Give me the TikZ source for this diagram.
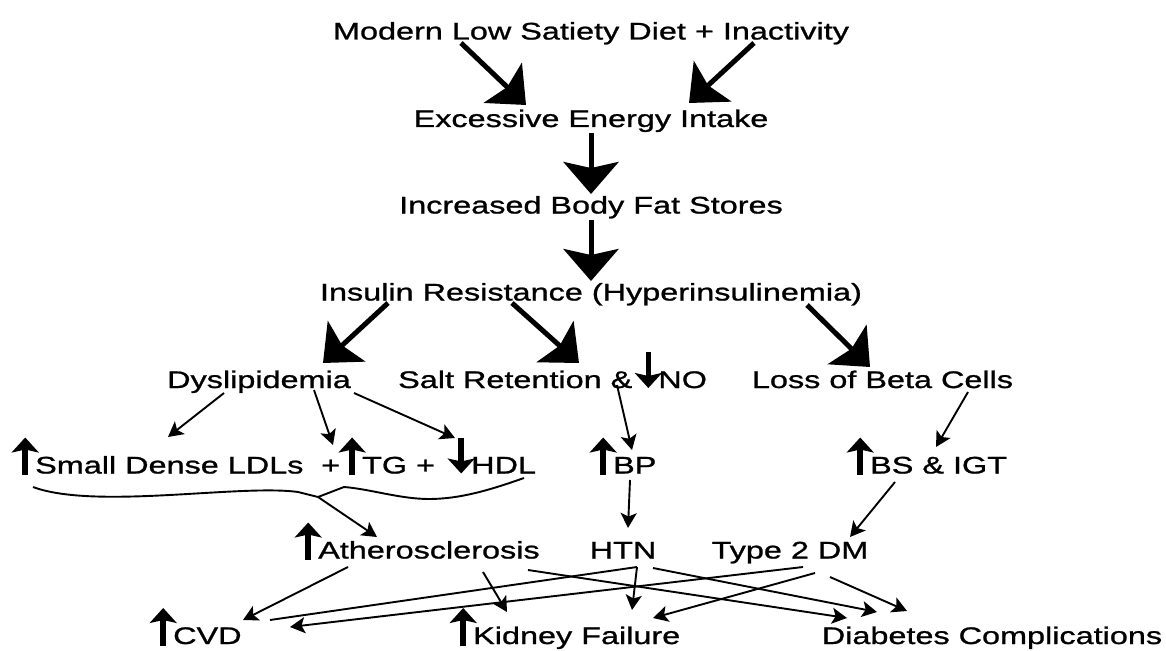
\documentclass[tikz,border=0pt]{standalone}
\usepackage{fontspec}
\setmainfont{Liberation Sans}[FakeStretch=1.35,FakeBold=1]
\usetikzlibrary{arrows.meta}
\newcommand{\upa}{\tikz[baseline=0pt]{\useasboundingbox (0pt,0pt) rectangle (22pt,1pt);
  \draw[line width=5.5pt,-{Stealth[length=15pt,width=27pt,inset=3pt]}] (12pt,-1.5pt) -- (12pt,36pt);}}
\newcommand{\dna}{\tikz[baseline=0pt]{\useasboundingbox (0pt,0pt) rectangle (22pt,1pt);
  \draw[line width=5.5pt,-{Stealth[length=15pt,width=27pt,inset=3pt]}] (12pt,36pt) -- (12pt,0pt);}}
\begin{document}
\begin{tikzpicture}[x=1pt,y=-1pt,
  lbl/.style={inner sep=0pt,anchor=base,font=\fontsize{24}{28}\selectfont},
  lblw/.style={lbl,anchor=base west},
  big/.style={line width=5pt,-{Stealth[length=32pt,width=55pt,inset=6pt]}},
  thin/.style={line width=1.9pt,-{Stealth[length=15pt,width=16pt,inset=3.5pt]}},
  plain/.style={line width=1.9pt}]
\fill[white] (0,0) rectangle (1166,650);
\useasboundingbox (0,0) rectangle (1166,650);
% nodes
\node[lbl] (top) at (591,39.5) {Modern Low Satiety Diet + Inactivity};
\node[lbl] (eei) at (591,127) {Excessive Energy Intake};
\node[lbl] (bfs) at (591,213.5) {Increased Body Fat Stores};
\node[lbl] (ir) at (591,300.5) {Insulin Resistance (Hyperinsulinemia)};
\node[lbl] (dys) at (259,388) {Dyslipidemia};
\node[lblw] (salt) at (398,388) {Salt Retention \&\,\dna NO};
\node[lbl] (loss) at (882.5,388) {Loss of Beta Cells};
\node[lblw] (sdl) at (13,473.5) {\upa Small Dense LDLs};
\node[lblw] (tg) at (321,473.5) {+\upa TG +};
\node[lblw] (hdl) at (449,473.5) {\dna HDL};
\node[lblw] (bp) at (591,473.5) {\upa BP};
\node[lblw] (bs) at (848,473.5) {\upa BS \& IGT};
\node[lblw] (ath) at (296,558.5) {\upa Atherosclerosis};
\node[lbl] (htn) at (623,558.5) {HTN};
\node[lbl] (t2) at (790,558.5) {Type 2 DM};
\node[lblw] (cvd) at (151,644) {\upa CVD};
\node[lblw] (kf) at (451,644) {\upa Kidney Failure};
\node[lbl] (dc) at (992,644) {Diabetes Complications};
% connector end points
\coordinate (topL) at (461,43);   \coordinate (eeiL) at (526,105);
\coordinate (topR) at (754,43);   \coordinate (eeiR) at (689,103);
\coordinate (eeiB) at (591,133);  \coordinate (bfsT) at (591,194);
\coordinate (bfsB) at (591,220);  \coordinate (irT) at (591,281);
\coordinate (irA) at (388,303);   \coordinate (dysT) at (323,363);
\coordinate (irB) at (512,303);   \coordinate (saltT) at (579,363);
\coordinate (irC) at (807,305);   \coordinate (lossT) at (870,367);
\coordinate (dysA) at (224,393);  \coordinate (sdlT) at (168,437);
\coordinate (dysB) at (314,390);  \coordinate (tgT) at (333,445);
\coordinate (dysC) at (354,393);  \coordinate (hdlT) at (455,438);
\coordinate (saltB) at (617,385); \coordinate (bpT) at (632,450);
\coordinate (lossB) at (968,392); \coordinate (bsT) at (936,447);
\coordinate (bpB) at (630,480);   \coordinate (htnT) at (628,528);
\coordinate (bsB) at (895,482);   \coordinate (t2T) at (850,537);
\coordinate (sdlB) at (33,487);   \coordinate (hdlB) at (524,478);
\coordinate (jn) at (318,497);    \coordinate (athT) at (377,537);
\coordinate (athA) at (348,567);  \coordinate (cvdA) at (243,620);
\coordinate (athB) at (483,572);  \coordinate (kfA) at (507,612);
\coordinate (athC) at (528,570);  \coordinate (dcA) at (847,618);
\coordinate (htnB) at (637,567);  \coordinate (cvdB) at (270,620);
\coordinate (kfB) at (632,610);
\coordinate (htnC) at (653,568);  \coordinate (dcB) at (877,612);
\coordinate (t2A) at (803,567);   \coordinate (cvdC) at (290,627);
\coordinate (t2B) at (815,573);   \coordinate (kfC) at (653,618);
\coordinate (t2C) at (830,577);   \coordinate (dcC) at (907,611);
% big arrows
\draw[big] (topL) -- (eeiL);
\draw[big] (topR) -- (eeiR);
\draw[big] (eeiB) -- (bfsT);
\draw[big] (bfsB) -- (irT);
\draw[big] (irA) -- (dysT);
\draw[big] (irB) -- (saltT);
\draw[big] (irC) -- (lossT);
% thin arrows
\draw[thin] (dysA) -- (sdlT);
\draw[thin] (dysB) -- (tgT);
\draw[thin] (dysC) -- (hdlT);
\draw[thin] (saltB) -- (bpT);
\draw[thin] (lossB) -- (bsT);
\draw[thin] (bpB) -- (htnT);
\draw[thin] (bsB) -- (t2T);
% brace-like curves
\draw[plain] (sdlB) .. controls (95,510) and (240,484) .. (298,492) -- (jn);
\draw[plain] (hdlB) .. controls (490,490) and (460,499) .. (429,499)
   .. controls (400,499) and (370,489) .. (344,487) -- (jn);
\draw[thin] (jn) -- (athT);
% bottom rows
\draw[thin] (athA) -- (cvdA);
\draw[thin] (athB) -- (kfA);
\draw[thin] (athC) -- (dcA);
\draw[plain] (htnB) -- (cvdB);
\draw[thin] (htnB) -- (kfB);
\draw[thin] (htnC) -- (dcB);
\draw[thin] (t2A) -- (cvdC);
\draw[thin] (t2B) -- (kfC);
\draw[thin] (t2C) -- (dcC);
\end{tikzpicture}
\end{document}
